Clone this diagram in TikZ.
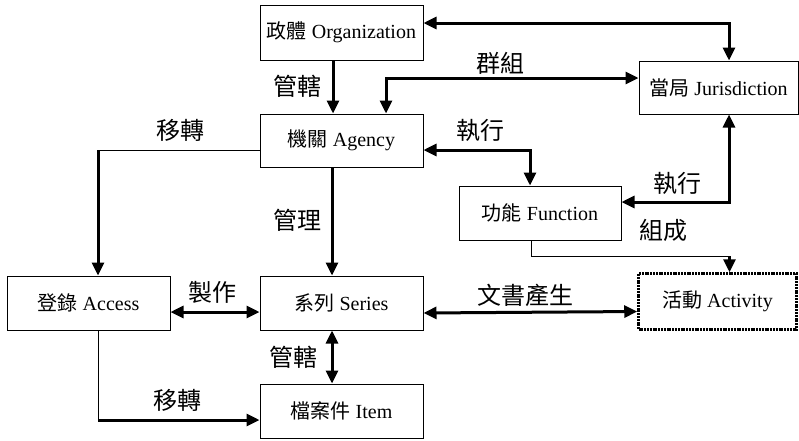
\documentclass[tikz,border=0pt]{standalone}
\usepackage{fontspec}
\setmainfont{Liberation Serif}
\newfontfamily\cjk{Noto Sans CJK TC}
\usetikzlibrary{arrows.meta}
\begin{document}
\begin{tikzpicture}[x=1pt,y=-1pt,
  box/.style={draw,line width=1pt,minimum width=163pt,minimum height=54pt,inner sep=0pt,font=\fontsize{20}{23}\selectfont},
  lab/.style={font=\cjk\fontsize{24}{27}\selectfont,inner sep=0pt},
  plainln/.style={line width=1pt},
  arr/.style={line width=3pt,-{Triangle[length=13pt,width=12pt]}},
  dblarr/.style={line width=3pt,{Triangle[length=13pt,width=12pt]}-{Triangle[length=13pt,width=12pt]}}]
\useasboundingbox (0,0) rectangle (799,440);
% nodes
\node[box,minimum height=55pt] (org) at (341.5,32.5) {{\cjk 政體} Organization};
\node[box,minimum width=159pt,minimum height=53pt] (jur) at (718.5,87.5) {{\cjk 當局} Jurisdiction};
\node[box,minimum height=53pt] (agency) at (341.5,140.5) {{\cjk 機關} Agency};
\node[box,minimum width=162pt] (func) at (540,213) {{\cjk 功能} Function};
\node[box] (access) at (88.5,303) {{\cjk 登錄} Access};
\node[box] (series) at (341.5,303) {{\cjk 系列} Series};
\node[box] (item) at (341.5,411) {{\cjk 檔案件} Item};
\node[box,minimum width=158pt,minimum height=56pt,line width=2.5pt,dash pattern=on 2pt off 0.8pt] (act) at (717.5,301.5) {{\cjk 活動} Activity};
% connectors
\draw[arr] ([xshift=-8.5pt]org.south) -- ([xshift=-8.5pt]agency.north);
\draw[dblarr] ([yshift=9.5pt]org.east) -| ([xshift=10.5pt]jur.north);
\draw[dblarr] ([yshift=9.5pt]jur.west) -| ([xshift=44.5pt]agency.north);
\draw[dblarr] ([yshift=-9.5pt]agency.east) -| ([xshift=-10pt]func.north);
\draw[dblarr] ([yshift=11pt]func.east) -| ([xshift=10.5pt]jur.south);
\coordinate (c1) at ([xshift=12pt,yshift=16pt]act.north);
\draw[plainln] ([xshift=-9pt]func.south) |- (c1);
\draw[arr] (c1) -- ([xshift=12pt]act.north);
\coordinate (aw) at ([yshift=-9.5pt]agency.west);
\coordinate (an) at ([xshift=9.5pt]access.north);
\coordinate (c2) at (an |- aw);
\draw[plainln] (aw) -- (c2);
\draw[arr] (c2) -- (an);
\draw[arr] ([xshift=-9.5pt]agency.south) -- ([xshift=-9.5pt]series.north);
\draw[dblarr] ([yshift=-9pt]access.east) -- ([yshift=-9pt]series.west);
\draw[dblarr] ([xshift=-9.5pt]series.south) -- ([xshift=-9.5pt]item.north);
\coordinate (as) at ([xshift=9.5pt]access.south);
\coordinate (iw) at ([yshift=-9pt]item.west);
\coordinate (c3) at (as |- iw);
\draw[plainln] (as) -- (c3);
\draw[arr] (c3) -- (iw);
\draw[dblarr] ([yshift=-10pt]series.east) -- ([yshift=-10pt]act.west);
% labels
\node[lab] (l1) at (297,86) {管轄};
\node[lab] (l2) at (500,63) {群組};
\node[lab] (l3) at (180,130) {移轉};
\node[lab] (l4) at (480,130) {執行};
\node[lab] (l5) at (677,183) {執行};
\node[lab] (l6) at (297,220) {管理};
\node[lab] (l7) at (663,230) {組成};
\node[lab] (l8) at (212,292) {製作};
\node[lab] (l9) at (525,295) {文書產生};
\node[lab] (l10) at (293,357) {管轄};
\node[lab] (l11) at (177,400) {移轉};
\end{tikzpicture}
\end{document}
